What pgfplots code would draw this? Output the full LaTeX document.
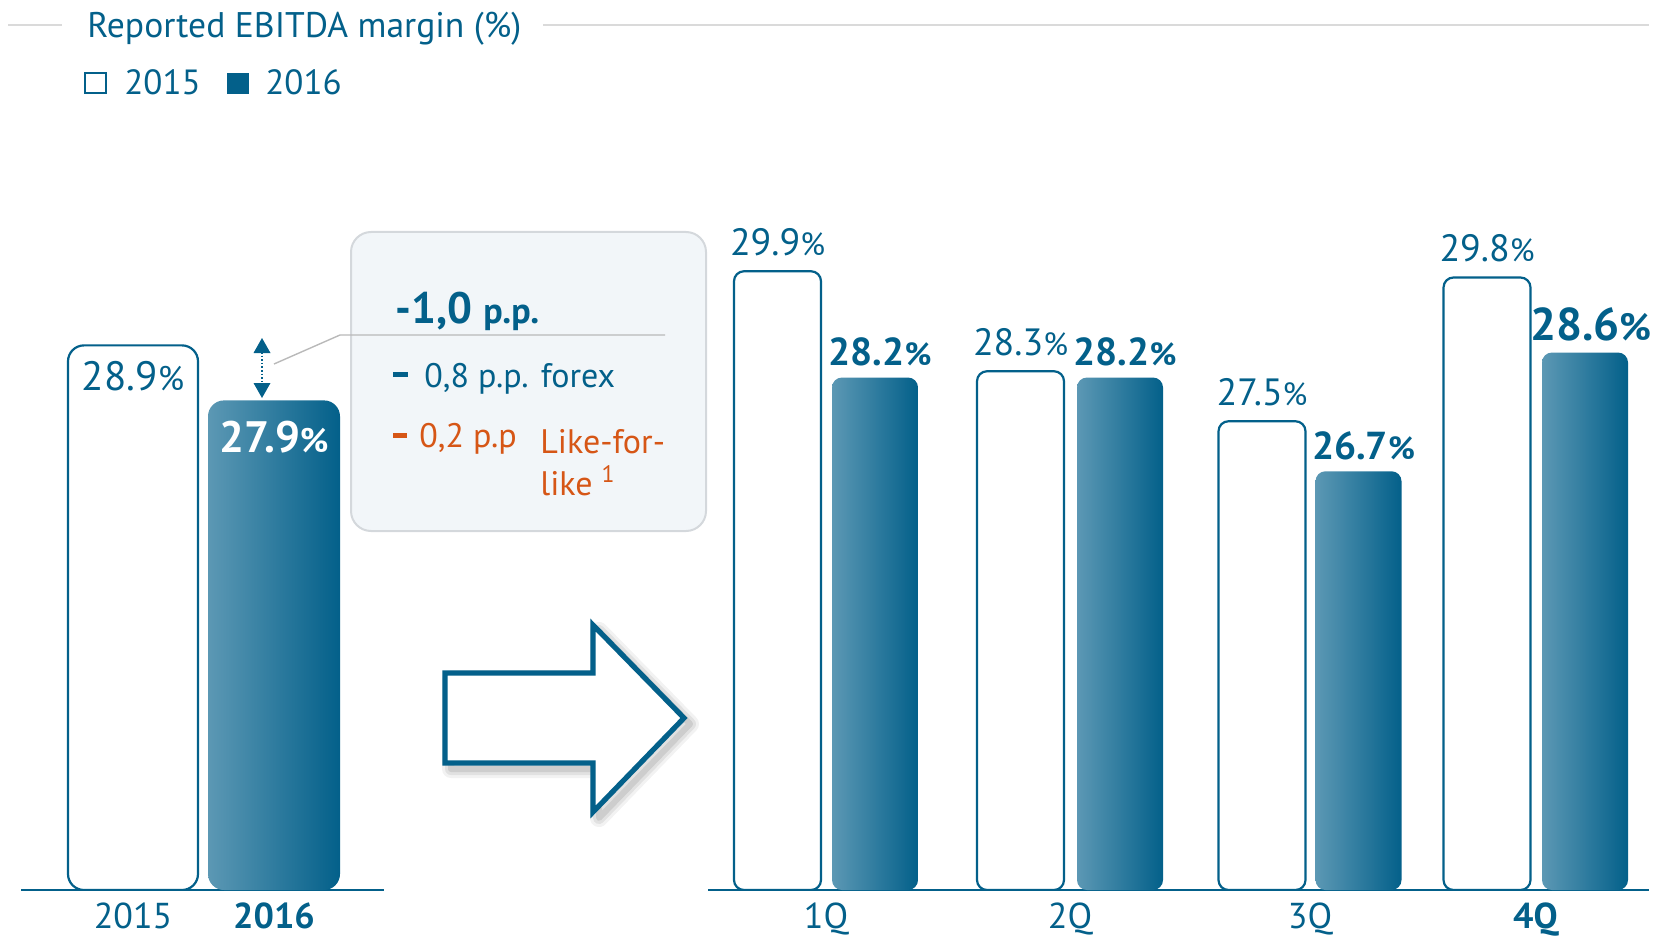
\documentclass[border=0pt]{standalone}
\usepackage{fontspec}
\setmainfont{PT Sans}
\usepackage{pgfplots}
\pgfplotsset{compat=1.18}
\pgfkeys{/pgf/number format/assume math mode=true}

\definecolor{tblue}{RGB}{3,96,138}
\definecolor{tlight}{RGB}{92,152,180}
\definecolor{torange}{RGB}{214,86,22}
\definecolor{rulegrey}{RGB}{218,218,218}
\definecolor{boxfill}{RGB}{242,246,249}
\definecolor{boxline}{RGB}{212,216,220}

\newcommand\fs[1]{\fontsize{#1}{#1}\selectfont}
% value label: number followed by a smaller percent sign
\newcommand\val[2]{\pgfmathprintnumber[fixed,fixed zerofill,precision=1]{#1}{\fs{#2}\%}}

\pgfplotsset{
  panel/.style={
    scale only axis, anchor=south west,
    axis x line*=bottom, axis y line=none,
    axis line style={draw=tblue, line width=1.4pt},
    major tick length=0pt,
    xticklabel style={text=tblue, font=\fs{18pt}, inner sep=0pt, anchor=north},
  },
  open bar/.style={ybar, draw=tblue, line width=1.1pt, fill=white},
  solid bar/.style={ybar, draw=none, left color=tlight, right color=tblue},
  % labels above the quarterly bars
  lab15/.style={nodes near coords={\val{\pgfplotspointmeta}{16pt}},
    every node near coord/.append style={font=\fs{19pt}, text=tblue, inner sep=0pt, yshift=7pt}},
  lab16/.style={nodes near coords={\val{\pgfplotspointmeta}{16pt}},
    every node near coord/.append style={font=\bfseries\fs{19.5pt}, text=tblue, inner sep=0pt, yshift=5.5pt, xshift=2.5pt}},
}

\begin{document}
\begin{tikzpicture}
% pixel grid: 1 unit = 0.5pt, y grows downwards
\begin{scope}[x=0.5pt,y=-0.5pt]
  \useasboundingbox (0,0) rectangle (1663,936);
  \coordinate (LA) at (21,890);
  \coordinate (RA) at (708,890);
\end{scope}

% ---- full year ----
\begin{axis}[panel, at={(LA)}, width=181.5pt, height=359.5pt,
  xmin=21, xmax=384, ymin=19, ymax=32.07,
  xtick={133,274}, xticklabels={2015,\textbf{2016}},
  xticklabel style={yshift=-6pt}]
\addplot[open bar, bar width=130, rounded corners=8pt,
  nodes near coords={\val{\pgfplotspointmeta}{17pt}},
  every node near coord/.append style={font=\fs{20.5pt}, text=tblue, inner sep=0pt, yshift=-23.5pt}]
  coordinates {(133,28.9)};
\addplot[solid bar, bar width=132, rounded corners=8pt,
  nodes near coords={\val{\pgfplotspointmeta}{17pt}},
  every node near coord/.append style={font=\bfseries\fs{22pt}, text=white, inner sep=0pt, yshift=-26.5pt}]
  coordinates {(274,27.9)};
\end{axis}

% ---- quarters ----
\begin{axis}[panel, at={(RA)}, width=470.5pt, height=359.5pt,
  xmin=708, xmax=1649, ymin=20, ymax=31.504,
  xtick={826,1070,1310,1536}, xticklabels={1Q,2Q,3Q,\textbf{4Q}},
  xticklabel style={yshift=-6pt}]
% 2015
\addplot[open bar, bar width=87, rounded corners=5pt, lab15]
  coordinates {(777.5,29.9) (1020.5,28.3) (1262,27.5) (1487,29.8)};
% 2016, one bar per quarter so that each gets its own shading
\addplot[solid bar, bar width=86, rounded corners=5pt, lab16] coordinates {(875,28.2)};
\addplot[solid bar, bar width=86, rounded corners=5pt, lab16] coordinates {(1120,28.2)};
\addplot[solid bar, bar width=86, rounded corners=5pt, lab16] coordinates {(1358.5,26.7)};
\addplot[solid bar, bar width=86, rounded corners=5pt,
  nodes near coords={\val{\pgfplotspointmeta}{19pt}},
  every node near coord/.append style={font=\bfseries\fs{23pt}, text=tblue, inner sep=0pt, yshift=5.5pt, xshift=3pt}]
  coordinates {(1585,28.6)};
\end{axis}

\begin{scope}[x=0.5pt,y=-0.5pt]
  % title with rules
  \draw[rulegrey, line width=1pt] (8,25) -- (62,25);
  \draw[rulegrey, line width=1pt] (543,25) -- (1649,25);
  \node[anchor=base west, inner sep=0pt, text=tblue, font=\fs{17.8pt}] at (87,38) {Reported EBITDA margin (\%)};
  % legend
  \draw[tblue, line width=1pt] (85,73) rectangle (106,93);
  \node[anchor=base west, inner sep=0pt, text=tblue, font=\fs{17.5pt}] at (124,95) {2015};
  \fill[tblue] (227,73) rectangle (249,94);
  \node[anchor=base west, inner sep=0pt, text=tblue, font=\fs{17.5pt}] at (265,95) {2016};

  % change between the two years
  \draw[tblue, line width=0.8pt, densely dotted] (262,352) -- (262,384);
  \fill[tblue] (262,338) -- (253.5,353) -- (270.5,353) -- cycle;
  \fill[tblue] (262,398) -- (253.5,383) -- (270.5,383) -- cycle;

  % call-out box
  \draw[boxline, fill=boxfill, line width=1pt, rounded corners=10pt] (351,232) rectangle (706,531);
  \draw[rulegrey!85!black, line width=0.7pt] (274,364) -- (340,335) -- (665,335);
  \node[anchor=base west, inner sep=0pt, text=tblue] at (395,323)
    {\bfseries\fs{22pt}-1,0 \fs{18pt}p.p.};
  \fill[tblue] (393,372) rectangle (408,377);
  \node[anchor=base west, inner sep=0pt, text=tblue, font=\fs{17pt}] at (424,387) {0,8 p.p. forex};
  \fill[torange] (393,433) rectangle (407,438);
  \node[anchor=base west, inner sep=0pt, text=torange, font=\fs{17pt}] at (419,447) {0,2 p.p};
  \node[anchor=base west, inner sep=0pt, text=torange, font=\fs{17pt}] at (540,453) {Like-for-};
  \node[anchor=base west, inner sep=0pt, text=torange, font=\fs{17pt}] at (540,495) {like \textsuperscript{1}};

  % big arrow with a soft shadow
  \begin{scope}[shift={(6,6)}]
    \foreach \w/\o in {9pt/0.05,6pt/0.07,3pt/0.09}
      \draw[black, opacity=\o, line width=\w, line join=round]
        (445,673) -- (593,673) -- (593,625) -- (684,718) -- (593,812) -- (593,763) -- (445,763) -- cycle;
  \end{scope}
  \draw[tblue, fill=white, line width=2.6pt, line join=miter]
    (445,673) -- (593,673) -- (593,625) -- (684,718) -- (593,812) -- (593,763) -- (445,763) -- cycle;
\end{scope}
\end{tikzpicture}
\end{document}
